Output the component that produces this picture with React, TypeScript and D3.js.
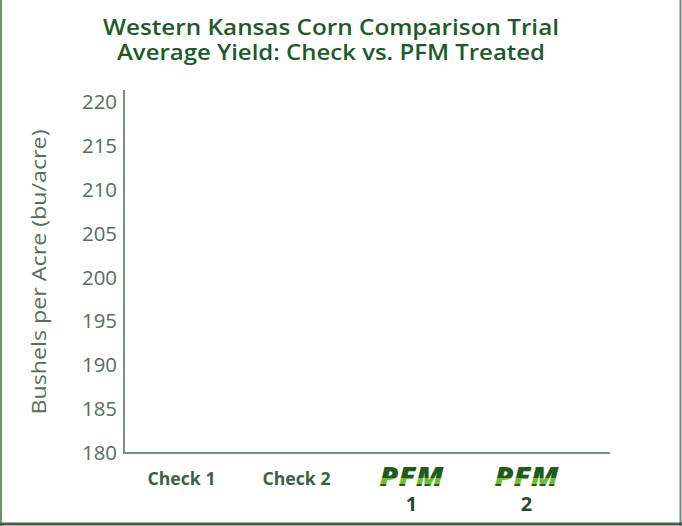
import React from "react";
import * as d3 from "d3";

const categories = ["Check 1", "Check 2", "PFM 1", "PFM 2"];
// Bars are not visible in the reference (zero height at the axis baseline)
const yieldValues = [180, 180, 180, 180];
const yTicks = [180, 185, 190, 195, 200, 205, 210, 215, 220];
const titleLines = [
  "Western Kansas Corn Comparison Trial",
  "Average Yield: Check vs. PFM Treated",
];
const titleWidths = [456, 428];
const yAxisTitle = "Bushels per Acre (bu/acre)";

const W = 682;
const H = 526;

export default function App() {
  const x = d3
    .scaleBand<string>()
    .domain(categories)
    .range([124, 584])
    .paddingInner(0.3)
    .paddingOuter(0.15);
  const y = d3.scaleLinear().domain([180, 221.4]).range([453, 90]);
  const font = "'Open Sans', 'DejaVu Sans', sans-serif";
  const tickColor = "#52705a";
  const axisColor = "#7a8f7e";

  return (
    <svg
      width={W}
      height={H}
      style={{ position: "absolute", left: 0, top: 0, background: "#fff" }}
      fontFamily={font}
    >
      <defs>
        <linearGradient id="pfmGrad" x1="0" y1="0" x2="0" y2="1">
          <stop offset="0" stopColor="#1f5a1f" />
          <stop offset="0.55" stopColor="#1f5a1f" />
          <stop offset="0.56" stopColor="#6fbf2e" />
          <stop offset="0.72" stopColor="#6fbf2e" />
          <stop offset="0.73" stopColor="#1f5a1f" />
          <stop offset="1" stopColor="#1f5a1f" />
        </linearGradient>
      </defs>
      <rect x={0} y={0} width={W} height={H} fill="#fff" />
      {/* frame */}
      <line x1={1} y1={0} x2={1} y2={H} stroke="#6f8f76" strokeWidth={2} />
      <line x1={680.5} y1={0} x2={680.5} y2={H} stroke="#6f8f76" strokeWidth={2} />
      <line x1={0} y1={524} x2={W} y2={524} stroke="#4a5a4e" strokeWidth={3} />

      {/* title */}
      {titleLines.map((t, i) => (
        <text
          key={t}
          x={331}
          y={35 + i * 25}
          textAnchor="middle"
          fontSize={22}
          fontWeight={600}
          fill="#1d5a2c"
          textLength={titleWidths[i]}
          lengthAdjust="spacingAndGlyphs"
        >
          {t}
        </text>
      ))}

      {/* bars */}
      {categories.map((c, i) => (
        <rect
          key={c}
          x={x(c)}
          y={y(yieldValues[i])}
          width={x.bandwidth()}
          height={y(180) - y(yieldValues[i])}
          fill="#2e7d32"
        />
      ))}

      {/* y ticks */}
      {yTicks.map((t) => (
        <text
          key={t}
          x={117}
          y={y(t) + 7}
          textAnchor="end"
          fontSize={20}
          fill={tickColor}
          textLength={35}
          lengthAdjust="spacingAndGlyphs"
        >
          {t}
        </text>
      ))}

      {/* axes */}
      <line x1={124} y1={90} x2={124} y2={453} stroke={axisColor} strokeWidth={2} />
      <line x1={123} y1={453} x2={610} y2={453} stroke={axisColor} strokeWidth={2} />

      {/* y title */}
      <text
        transform={`translate(46,${272}) rotate(-90)`}
        textAnchor="middle"
        fontSize={20}
        fill={tickColor}
        textLength={285}
        lengthAdjust="spacingAndGlyphs"
      >
        {yAxisTitle}
      </text>

      {/* x labels */}
      {categories.map((c) => {
        const cx = (x(c) as number) + x.bandwidth() / 2;
        if (c.startsWith("PFM")) {
          const [a, b] = c.split(" ");
          return (
            <g key={c}>
              <text
                x={cx}
                y={486}
                textAnchor="middle"
                fontSize={26}
                fontWeight={800}
                fontStyle="italic"
                fill="url(#pfmGrad)"
                textLength={64}
                lengthAdjust="spacingAndGlyphs"
              >
                {a}
              </text>
              <text x={cx} y={511} textAnchor="middle" fontSize={20} fontWeight={700} fill="#1f4f27">
                {b}
              </text>
            </g>
          );
        }
        return (
          <text
            key={c}
            x={cx}
            y={485}
            textAnchor="middle"
            fontSize={17}
            fontWeight={700}
            fill="#3e5e46"
            textLength={68}
            lengthAdjust="spacingAndGlyphs"
          >
            {c}
          </text>
        );
      })}
    </svg>
  );
}
